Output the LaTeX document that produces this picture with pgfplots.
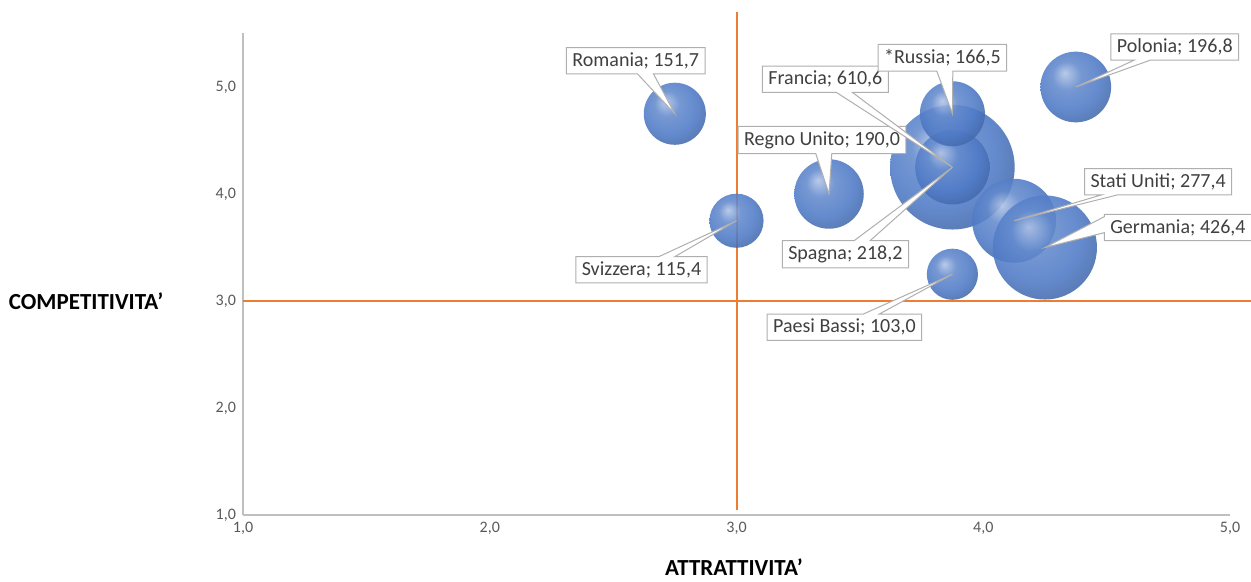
\documentclass[border=0pt]{standalone}
\usepackage{fontspec}
\setmainfont{Carlito}
\usepackage{pgfplots}
\pgfplotsset{compat=1.18}
\usetikzlibrary{plotmarks,shapes.callouts}

\definecolor{orangeline}{RGB}{237,125,49}
\definecolor{bubble}{RGB}{78,122,198}
\definecolor{axisgray}{RGB}{191,191,191}
\definecolor{ticktext}{RGB}{89,89,89}
\definecolor{labeltext}{RGB}{64,64,64}
\definecolor{boxgray}{RGB}{175,175,175}

% softer ball shading, closer to the spreadsheet bubbles
\makeatletter
\pgfdeclareradialshading[tikz@ball]{ball}{\pgfqpoint{-8bp}{10bp}}{%
  color(0bp)=(tikz@ball!45!white); color(10bp)=(tikz@ball!88!white);
  color(22bp)=(tikz@ball); color(34bp)=(tikz@ball!80!black);
  color(50bp)=(tikz@ball!55!black)}
\makeatother

\begin{document}
\begin{tikzpicture}
\begin{axis}[
    scale only axis,
    width=493.5pt,
    height=240.75pt,
    xmin=1, xmax=5,
    ymin=1, ymax=5.5,
    xtick={1,2,3,4,5},
    ytick={1,2,3,4,5},
    axis lines*=left,
    axis line style={axisgray, line width=0.75pt},
    major tick length=0pt,
    clip=false,
    /pgf/number format/assume math mode=true,
    tick label style={font=\fontsize{8}{9}\selectfont, text=ticktext,
        /pgf/number format/fixed, /pgf/number format/fixed zerofill,
        /pgf/number format/precision=1, /pgf/number format/use comma},
    xlabel={ATTRATTIVITA’},
    ylabel={COMPETITIVITA’},
    every axis x label/.style={at={(axis description cs:0.4975,-0.108)}, anchor=center,
        font=\bfseries\fontsize{11.5}{13}\selectfont},
    every axis y label/.style={at={(axis description cs:-0.159,0.444)}, anchor=center,
        font=\bfseries\fontsize{11.5}{13}\selectfont},
]
\coordinate (O) at (axis cs:1,1);
\addplot[orangeline, line width=1pt] coordinates {(3,1.05) (3,5.7)};
\addplot[orangeline, line width=1pt] coordinates {(1,3) (5.085,3)};

% x = attrattivita, y = competitivita, s = bubble value, dx/dy = label offset (pt)
% bubbles
\addplot[
    scatter, only marks, mark=ball,
    mark options={ball color=bubble, opacity=0.88},
    scatter/use mapped color={draw opacity=0},
    visualization depends on={value \thisrow{s} \as \sz},
    scatter/@pre marker code/.append style={/tikz/mark size={1.26*sqrt(\sz)}},
] table[x=x, y=y] {
x     y    s
2.75  4.75 151.7
3.0   3.75 115.4
3.375 4.0  190.0
3.875 4.25 610.6
3.875 4.25 218.2
3.875 4.75 166.5
4.375 5.0  196.8
4.125 3.75 277.4
4.25  3.5  426.4
3.875 3.25 103.0
};

% data labels
\addplot[
    draw=none, mark=none,
    visualization depends on={value \thisrow{s} \as \sz},
    visualization depends on={value \thisrow{dx} \as \dx},
    visualization depends on={value \thisrow{dy} \as \dy},
    visualization depends on={value \thisrow{name} \as \nm},
    nodes near coords={\nm; \pgfmathprintnumber[fixed, fixed zerofill, precision=1, use comma, assume math mode=true]{\sz}},
    every node near coord/.append style={
        rectangle callout, draw=boxgray, fill=white, text=labeltext,
        font=\fontsize{10}{12}\selectfont, inner xsep=3pt, inner ysep=2.5pt,
        line width=0.5pt, anchor=center,
        callout absolute pointer={(0pt,0pt)},
        xshift=\dx*1pt, yshift=\dy*1pt,
        callout pointer width=8pt},
] table[x=x, y=y] {
x     y    s     dx    dy    name
2.75  4.75 151.7 -19.5 26.5  Romania
3.0   3.75 115.4 -47.5 -24.5 Svizzera
3.375 4.0  190.0 -3.5  27    {Regno Unito}
3.875 4.25 610.6 -63.5 44    Francia
3.875 4.25 218.2 -53.5 -43.5 Spagna
3.875 4.75 166.5 -5    28    *Russia
4.375 5.0  196.8 49.5  20    Polonia
4.125 3.75 277.4 72    19.5  {Stati Uniti}
4.25  3.5  426.4 66.5  10    Germania
3.875 3.25 103.0 -54   -26.5 {Paesi Bassi}
};
\end{axis}
\pgfresetboundingbox
\path ([shift={(-121.5pt,-33.5pt)}]O) rectangle ++(625.5pt,291pt);
\end{tikzpicture}
\end{document}
